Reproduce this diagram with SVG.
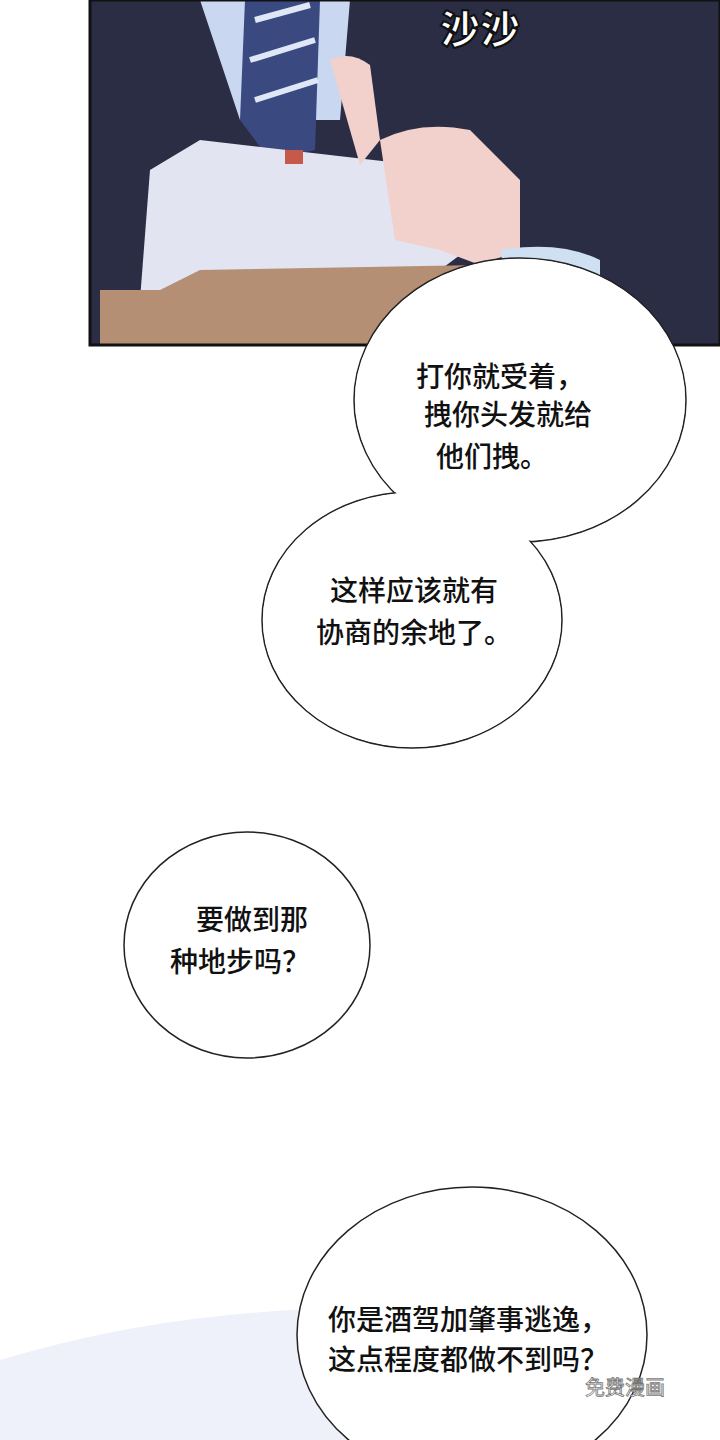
<svg xmlns="http://www.w3.org/2000/svg" width="720" height="1440" viewBox="0 0 720 1440">
<style>
.b{fill:#fff;stroke:#222;stroke-width:1.5}
.f{fill:#fff;stroke:none}
.t{font-family:"Noto Sans CJK SC",sans-serif;font-size:28px;font-weight:500;fill:#111;text-anchor:middle}
</style>
<rect width="720" height="1440" fill="#fff"/>
<path d="M0 1360 Q200 1300 420 1310 L560 1440 L0 1440Z" fill="#eef0fa"/>
<g id="panel">
<rect x="90" y="0" width="630" height="345" fill="#2b2d45"/>
<path d="M200 0 L350 0 L340 120 L240 120Z" fill="#c9d8f0"/>
<path d="M245 0 L320 0 L315 150 L270 160 L240 120Z" fill="#3a4a80"/>
<path d="M255 20 L310 5 M250 60 L315 40 M255 100 L318 80" stroke="#dfe6f5" stroke-width="6"/>
<path d="M150 170 L200 140 L460 170 L480 240 L440 270 L140 300Z" fill="#e2e4f2"/>
<path d="M100 290 L160 290 L200 270 L480 265 L500 345 L100 345Z" fill="#b58f74"/>
<path d="M380 140 Q420 120 470 130 L520 180 L520 250 L480 265 L440 250 L395 240 Z" fill="#f2d0cc"/>
<path d="M330 60 Q350 50 370 65 L380 140 L360 165 Z" fill="#f2d0cc"/>
<rect x="285" y="150" width="18" height="14" fill="#c65a4a"/>
<path d="M500 250 Q560 240 600 260 L600 330 L520 340 Z" fill="#cfe0f2"/>
<rect x="90" y="0" width="630" height="345" fill="none" stroke="#111" stroke-width="3"/>
<text x="480" y="44" font-family="Noto Sans CJK SC,sans-serif" font-size="40" font-weight="900" fill="#fff" stroke="#111" stroke-width="2" text-anchor="middle">沙沙</text>
</g>
<g id="bubbles12">
<ellipse class="b" cx="520" cy="400" rx="166" ry="142"/>
<ellipse class="b" cx="412" cy="620" rx="150" ry="128"/>
<ellipse class="f" cx="520" cy="400" rx="165" ry="141"/>
<ellipse class="f" cx="412" cy="620" rx="149" ry="127"/>
</g>
<g id="bubble1">
<text class="t" x="500" y="387">打你就受着，</text><text class="t" x="508" y="425">拽你头发就给</text><text class="t" x="492" y="467">他们拽。</text></g>
<g id="bubble2">
<text class="t" x="414" y="601">这样应该就有</text><text class="t" x="414" y="643">协商的余地了。</text></g>
<g id="bubble3"><ellipse class="b" cx="247" cy="945" rx="123" ry="113"/>
<text class="t" x="252" y="930">要做到那</text><text class="t" x="240" y="972">种地步吗？</text></g>
<g id="bubble4"><ellipse class="b" cx="472" cy="1335" rx="175" ry="148"/>
<text class="t" x="468" y="1330">你是酒驾加肇事逃逸，</text><text class="t" x="468" y="1370">这点程度都做不到吗？</text></g>
<text x="625" y="1395" font-family="Noto Sans CJK SC,sans-serif" font-size="20" fill="#fff" stroke="#777" stroke-width="0.8" text-anchor="middle">免费漫画</text>
</svg>
